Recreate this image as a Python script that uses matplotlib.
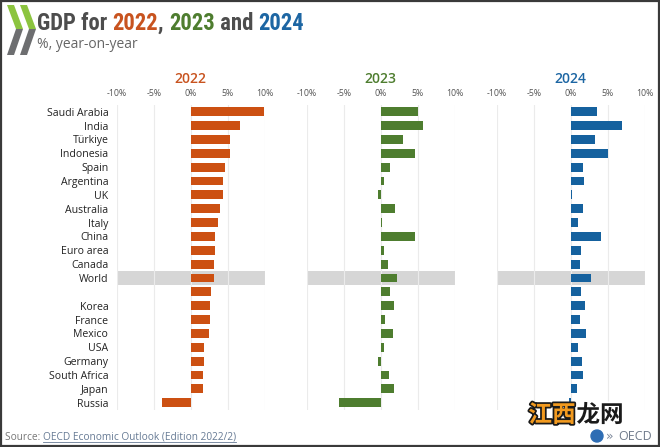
import matplotlib
matplotlib.use("Agg")
import matplotlib.pyplot as plt
import matplotlib.patheffects as pe
from matplotlib.patches import Polygon, Rectangle, Circle
import numpy as np
import logging
logging.getLogger("matplotlib.font_manager").setLevel(logging.ERROR)

countries = ["Saudi Arabia", "India", "Türkiye", "Indonesia", "Spain", "Argentina", "UK",
             "Australia", "Italy", "China", "Euro area", "Canada", "World", "",
             "Korea", "France", "Mexico", "USA", "Germany", "South Africa", "Japan", "Russia"]
gdp_2022 = [9.9, 6.6, 5.3, 5.3, 4.7, 4.4, 4.4, 4.0, 3.7, 3.3, 3.3, 3.2, 3.1, 2.8,
            2.6, 2.6, 2.5, 1.8, 1.8, 1.7, 1.6, -3.9]
gdp_2023 = [5.0, 5.7, 3.0, 4.7, 1.3, 0.5, -0.4, 1.9, 0.2, 4.6, 0.5, 1.0, 2.2, 1.2,
            1.8, 0.6, 1.6, 0.5, -0.3, 1.1, 1.8, -5.6]
gdp_2024 = [3.5, 6.9, 3.3, 5.0, 1.7, 1.8, 0.2, 1.6, 1.0, 4.1, 1.4, 1.3, 2.7, 1.4,
            1.9, 1.2, 2.1, 1.0, 1.5, 1.6, 0.9, -0.2]
years = ["2022", "2023", "2024"]
series = [gdp_2022, gdp_2023, gdp_2024]
xticks = [-10, -5, 0, 5, 10]
xtick_labels = ["-10%", "-5%", "0%", "5%", "10%"]

bar_colors = ["#CC5012", "#4E7D2F", "#15619E"]
title_colors = ["#C8531F", "#4E7D2F", "#1D66A3"]

W, H = 660, 447
fig = plt.figure(figsize=(W / 100, H / 100), dpi=100)
fig.patch.set_facecolor("white")

body_font = ["Open Sans", "DejaVu Sans"]

# panel geometry in pixels
panel_lefts = [116.7, 306.7, 496.7]
panel_w = 148.0
top_px, bot_px = 104.8, 409.6

n = len(countries)
ypos = np.arange(n)
world_idx = countries.index("World")

for i, (left, vals) in enumerate(zip(panel_lefts, series)):
    ax = fig.add_axes([left / W, 1 - bot_px / H, panel_w / W, (bot_px - top_px) / H])
    ax.set_xlim(-10, 10)
    ax.set_ylim(n - 0.5, -0.5)
    ax.axhspan(world_idx - 0.48, world_idx + 0.48, color="#D6D6D6", zorder=0, lw=0)
    for xt in xticks:
        ax.axvline(xt, color="#EBEBEB", lw=0.8, zorder=1)
    ax.barh(ypos, vals, height=0.64, color=bar_colors[i], zorder=2)
    ax.xaxis.tick_top()
    ax.set_xticks(xticks)
    ax.set_xticklabels(xtick_labels, fontsize=6.3, color="#555555", family=body_font)
    ax.tick_params(axis="x", length=0, pad=5)
    ax.set_yticks(ypos)
    if i == 0:
        ax.set_yticklabels(countries, fontsize=7.6, color="#222222", family=body_font)
        ax.tick_params(axis="y", length=0, pad=6)
    else:
        ax.set_yticklabels([])
        ax.tick_params(axis="y", length=0)
    for s in ax.spines.values():
        s.set_visible(False)
    ax.set_title(years[i], color=title_colors[i], fontsize=10, family=body_font,
                 fontweight="semibold", pad=16)

# overlay in pixel coordinates for decorations
ov = fig.add_axes([0, 0, 1, 1], zorder=10)
ov.set_xlim(0, W)
ov.set_ylim(H, 0)
ov.axis("off")
ov.patch.set_alpha(0)

# OECD chevrons logo
green, grey = "#8CC43F", "#6D6E70"
for dx in (0, 13):
    ov.add_patch(Polygon([(7 + dx, 5), (14 + dx, 5), (23 + dx, 29), (16 + dx, 29)],
                         closed=True, color=green, lw=0))
    ov.add_patch(Polygon([(16 + dx, 29), (23 + dx, 29), (14 + dx, 55), (7 + dx, 55)],
                         closed=True, color=grey, lw=0))

# title with coloured years
title_font = ["Roboto Condensed", "Noto Sans Condensed", "Open Sans Condensed", "DejaVu Sans"]
parts = [("GDP for ", "#4D4D4D"), ("2022", title_colors[0]), (", ", "#4D4D4D"),
         ("2023", title_colors[1]), (" and ", "#4D4D4D"), ("2024", title_colors[2])]
fig.canvas.draw()
renderer = fig.canvas.get_renderer()
px_per_data = ov.transData.transform((1, 0))[0] - ov.transData.transform((0, 0))[0]

x = 37
for txt, col in parts:
    t = ov.text(x, 30, txt, color=col, fontsize=16.3, fontweight="bold",
                fontstretch="condensed", family=title_font,
                va="baseline", ha="left")
    bb = t.get_window_extent(renderer=renderer)
    x += bb.width / px_per_data

ov.text(37, 45, "%, year-on-year", color="#666666", fontsize=10, family=body_font,
        va="center", ha="left")

# source
t = ov.text(5, 437, "Source: ", color="#777777", fontsize=7.3, family=body_font,
            va="center", ha="left")
bb = t.get_window_extent(renderer=renderer)
sx = 5 + bb.width / px_per_data
t2 = ov.text(sx, 437, "OECD Economic Outlook (Edition 2022/2)", color="#667A94",
             fontsize=7.3, family=body_font, va="center", ha="left")
bb2 = t2.get_window_extent(renderer=renderer)
ov.plot([sx, sx + bb2.width / px_per_data], [442, 442], color="#667A94", lw=0.6)

# watermark
ov.text(552, 415, "江西", color="#F29A1F", fontsize=17, fontweight="bold",
        family=["Noto Sans CJK SC", "DejaVu Sans"], va="center", ha="center",
        path_effects=[pe.withStroke(linewidth=2.5, foreground="#1A1A1A")])
ov.text(600, 415, "龙网", color="#1A1A1A", fontsize=17, fontweight="bold",
        family=["Noto Sans CJK SC", "DejaVu Sans"], va="center", ha="center",
        path_effects=[pe.withStroke(linewidth=2.5, foreground="white")])

# OECD small logo bottom right
ov.add_patch(Circle((597, 436), 6, color="#2E6DB4"))
ov.text(606, 436, "»", color="#7A8699", fontsize=9, va="center", ha="left")
ov.text(635, 436, "OECD", color="#6F7A8A", fontsize=9, family=body_font,
        va="center", ha="center")

# frame border
ov.add_patch(Rectangle((0.5, 0.5), W - 2, H - 1.5, fill=False, edgecolor="#3A3A3A", lw=1.6))

fig.savefig("out.png", dpi=100, facecolor="white")
